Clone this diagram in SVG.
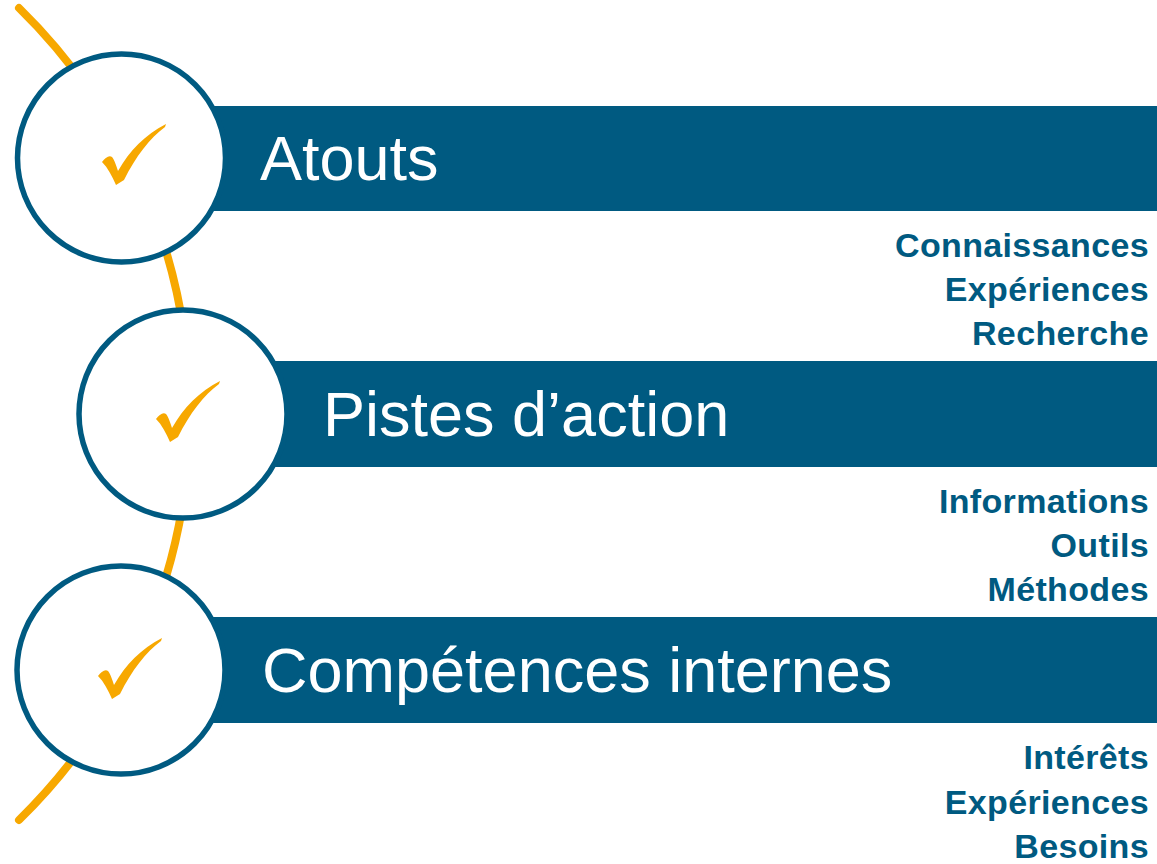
<svg xmlns="http://www.w3.org/2000/svg" width="1157" height="864" viewBox="0 0 1157 864">
<style>
.bar{fill:#005A81}
.ring{fill:#fff;stroke:#005A81;stroke-width:5.5}
.chk{fill:#F7A800}
.title{font-family:"Liberation Sans",Arial,sans-serif;font-size:63px;fill:#fff}
.sub{font-family:"Liberation Sans",Arial,sans-serif;font-weight:bold;font-size:34px;fill:#005A81;text-anchor:end;letter-spacing:0.35px}
</style>
<defs>
<path id="check" d="M0,38 C3,34 7,31 10,33 C12,35 14,41 16,47 C28,26 43,11 64,0 L63,3 C48,14 34,32 22,56 L14,61 C10,52 6,44 0,38 Z"/>
</defs>
<g id="connectors">
<path d="M19,8 A568,568 0 0 1 19,820" fill="none" stroke="#F7A800" stroke-width="8" stroke-linecap="round"/>
</g>
<g id="node-atouts">
<rect class="bar" x="200" y="106" width="957" height="105"/>
<circle class="ring" cx="121.5" cy="158" r="104"/>
<use href="#check" class="chk" transform="translate(102,124)"/>
<text class="title" x="260" y="180">Atouts</text>
<text class="sub" x="1149" y="257">Connaissances</text>
<text class="sub" x="1149" y="301">Expériences</text>
<text class="sub" x="1149" y="345">Recherche</text>
</g>
<g id="node-pistes">
<rect class="bar" x="260" y="361" width="897" height="106"/>
<circle class="ring" cx="183" cy="414" r="104"/>
<use href="#check" class="chk" transform="translate(156,381)"/>
<text class="title" x="323" y="436">Pistes d’action</text>
<text class="sub" x="1149" y="513">Informations</text>
<text class="sub" x="1149" y="557">Outils</text>
<text class="sub" x="1149" y="601">Méthodes</text>
</g>
<g id="node-competences">
<rect class="bar" x="200" y="617" width="957" height="106"/>
<circle class="ring" cx="121" cy="670" r="104"/>
<use href="#check" class="chk" transform="translate(98,638)"/>
<text class="title" x="262" y="692">Compétences internes</text>
<text class="sub" x="1149" y="769">Intérêts</text>
<text class="sub" x="1149" y="814">Expériences</text>
<text class="sub" x="1149" y="858">Besoins</text>
</g>
</svg>
